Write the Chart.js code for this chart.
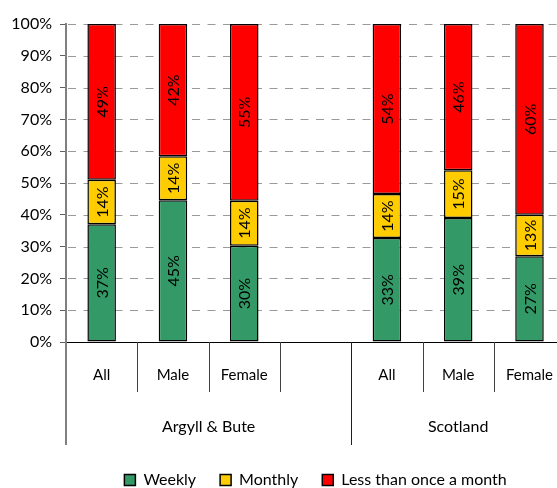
<!DOCTYPE html>
<html>
<head>
<meta charset="utf-8">
<script src="https://cdn.jsdelivr.net/npm/chart.js@4/dist/chart.umd.min.js"></script>
<style>
    html, body { margin: 0; padding: 0; background: #fff; overflow: hidden; }
    #wrap { width: 569px; height: 488px; }
</style>
</head>
<body>
<div id="wrap"><canvas id="chart"></canvas></div>
<script>
// categories (empty slot separates the two groups)
const categories = ['All', 'Male', 'Female', '', 'All', 'Male', 'Female'];
const groupLabels = ['Argyll & Bute', 'Scotland'];
const groupFirst = [0, 4];
const groupLast = [3, 6];

// series values (%) as printed on the bars
const weekly = [37, 45, 30, null, 33, 39, 27];
const monthly = [14, 14, 14, null, 14, 15, 13];
const lessThanMonthly = [49, 42, 55, null, 54, 46, 60];

const yTicks = [0, 10, 20, 30, 40, 50, 60, 70, 80, 90, 100];

const FONT = 'Lato, "Open Sans", sans-serif';

// 100% stacked: share of each category's total
function toShare(values) {
    return values.map((v, i) => {
        if (v == null) return null;
        let total = weekly[i] + monthly[i] + lessThanMonthly[i];
        return v / total * 100;
    });
}

function makeSet(label, values, colour) {
    return {
        label: label,
        data: toShare(values),
        printed: values,
        backgroundColor: colour,
        borderColor: '#000',
        borderWidth: 1.5,
        borderSkipped: false,
        barPercentage: 0.4,
        categoryPercentage: 1,
    };
}

// dashed horizontal gridlines behind the bars
const dashedGrid = {
    id: 'dashedGrid',
    beforeDatasetsDraw(chart) {
        let ctx = chart.ctx;
        let y = chart.scales.y;
        let area = chart.chartArea;
        ctx.save();
        ctx.strokeStyle = '#9a9a9a';
        ctx.lineWidth = 1;
        ctx.setLineDash([8, 7.5]);
        yTicks.forEach((v) => {
            if (v === 0) return;
            let py = Math.round(y.getPixelForValue(v)) + 0.5;
            ctx.beginPath();
            ctx.moveTo(area.left + 2, py);
            ctx.lineTo(area.right, py);
            ctx.stroke();
        });
        ctx.restore();
    }
};

// vertical labels inside each segment
const barLabels = {
    id: 'barLabels',
    afterDatasetsDraw(chart) {
        let ctx = chart.ctx;
        ctx.save();
        ctx.font = '16px ' + FONT;
        ctx.fillStyle = '#000';
        ctx.textAlign = 'center';
        ctx.textBaseline = 'middle';
        chart.data.datasets.forEach((ds, i) => {
            chart.getDatasetMeta(i).data.forEach((bar, j) => {
                let v = ds.printed[j];
                if (v == null) return;
                ctx.save();
                ctx.translate(bar.x, (bar.y + bar.base) / 2);
                ctx.rotate(-Math.PI / 2);
                ctx.fillText(v + '%', 0, 1);
                ctx.restore();
            });
        });
        ctx.restore();
    }
};

// category separators and group labels under the x axis
const groupAxis = {
    id: 'groupAxis',
    afterDraw(chart) {
        let ctx = chart.ctx;
        let x = chart.scales.x;
        let y0 = chart.chartArea.bottom;
        let half = (x.getPixelForValue(1) - x.getPixelForValue(0)) / 2;
        ctx.save();
        // short separators between categories
        ctx.strokeStyle = '#404040';
        ctx.lineWidth = 1;
        for (let i = 1; i < categories.length; i++) {
            if (groupFirst.indexOf(i) >= 0) continue;
            let px = Math.round(x.getPixelForValue(i) - half) + 0.5;
            ctx.beginPath();
            ctx.moveTo(px, y0);
            ctx.lineTo(px, y0 + 50);
            ctx.stroke();
        }
        // long separators at group starts
        groupFirst.forEach((g, k) => {
            let px = Math.round(x.getPixelForValue(g) - half);
            ctx.beginPath();
            if (k === 0) {
                ctx.strokeStyle = '#808080';
                ctx.lineWidth = 2;
            } else {
                ctx.strokeStyle = '#202020';
                ctx.lineWidth = 1;
                px += 0.5;
            }
            ctx.moveTo(px, y0);
            ctx.lineTo(px, y0 + 103);
            ctx.stroke();
        });
        // group names
        ctx.font = '16px ' + FONT;
        ctx.fillStyle = '#000';
        ctx.textAlign = 'center';
        ctx.textBaseline = 'middle';
        groupLabels.forEach((name, k) => {
            let left = x.getPixelForValue(groupFirst[k]) - half;
            let right = x.getPixelForValue(groupLast[k]) + half;
            ctx.fillText(name, (left + right) / 2, y0 + 85);
        });
        ctx.restore();
    }
};

new Chart(document.getElementById('chart').getContext('2d'), {
    type: 'bar',
    data: {
        labels: categories,
        datasets: [
            makeSet('Weekly', weekly, '#339966'),
            makeSet('Monthly', monthly, '#FFCC00'),
            makeSet('Less than once a month', lessThanMonthly, '#FF0000'),
        ],
    },
    options: {
        responsive: true,
        maintainAspectRatio: false,
        animation: false,
        layout: { padding: { top: 24, right: 0, left: 0, bottom: -10 } },
        plugins: {
            tooltip: { enabled: false },
            legend: {
                position: 'bottom',
                fullSize: false,
                labels: {
                    boxWidth: 11,
                    boxHeight: 11,
                    padding: 24,
                    color: '#000',
                    font: { family: FONT, size: 16 },
                },
            },
        },
        scales: {
            x: {
                stacked: true,
                grid: { display: false },
                border: { display: true, color: '#000', width: 1 },
                ticks: {
                    color: '#000',
                    font: { family: FONT, size: 15 },
                    padding: 16,
                    maxRotation: 0,
                    autoSkip: false,
                },
                afterFit: (scale) => { scale.height = 106; },
            },
            y: {
                stacked: true,
                min: 0,
                max: 100,
                afterBuildTicks: (scale) => {
                    scale.ticks = yTicks.map((v) => ({ value: v }));
                },
                afterFit: (scale) => { scale.width = 66; },
                grid: {
                    drawOnChartArea: false,
                    drawTicks: true,
                    tickColor: '#606060',
                    tickLength: 6,
                    lineWidth: 1,
                },
                border: { display: true, color: '#808080', width: 2 },
                ticks: {
                    color: '#000',
                    padding: 8,
                    font: { family: FONT, size: 16 },
                    callback: (v) => v + '%',
                },
            },
        },
    },
    plugins: [dashedGrid, barLabels, groupAxis],
});
</script>
</body>
</html>
